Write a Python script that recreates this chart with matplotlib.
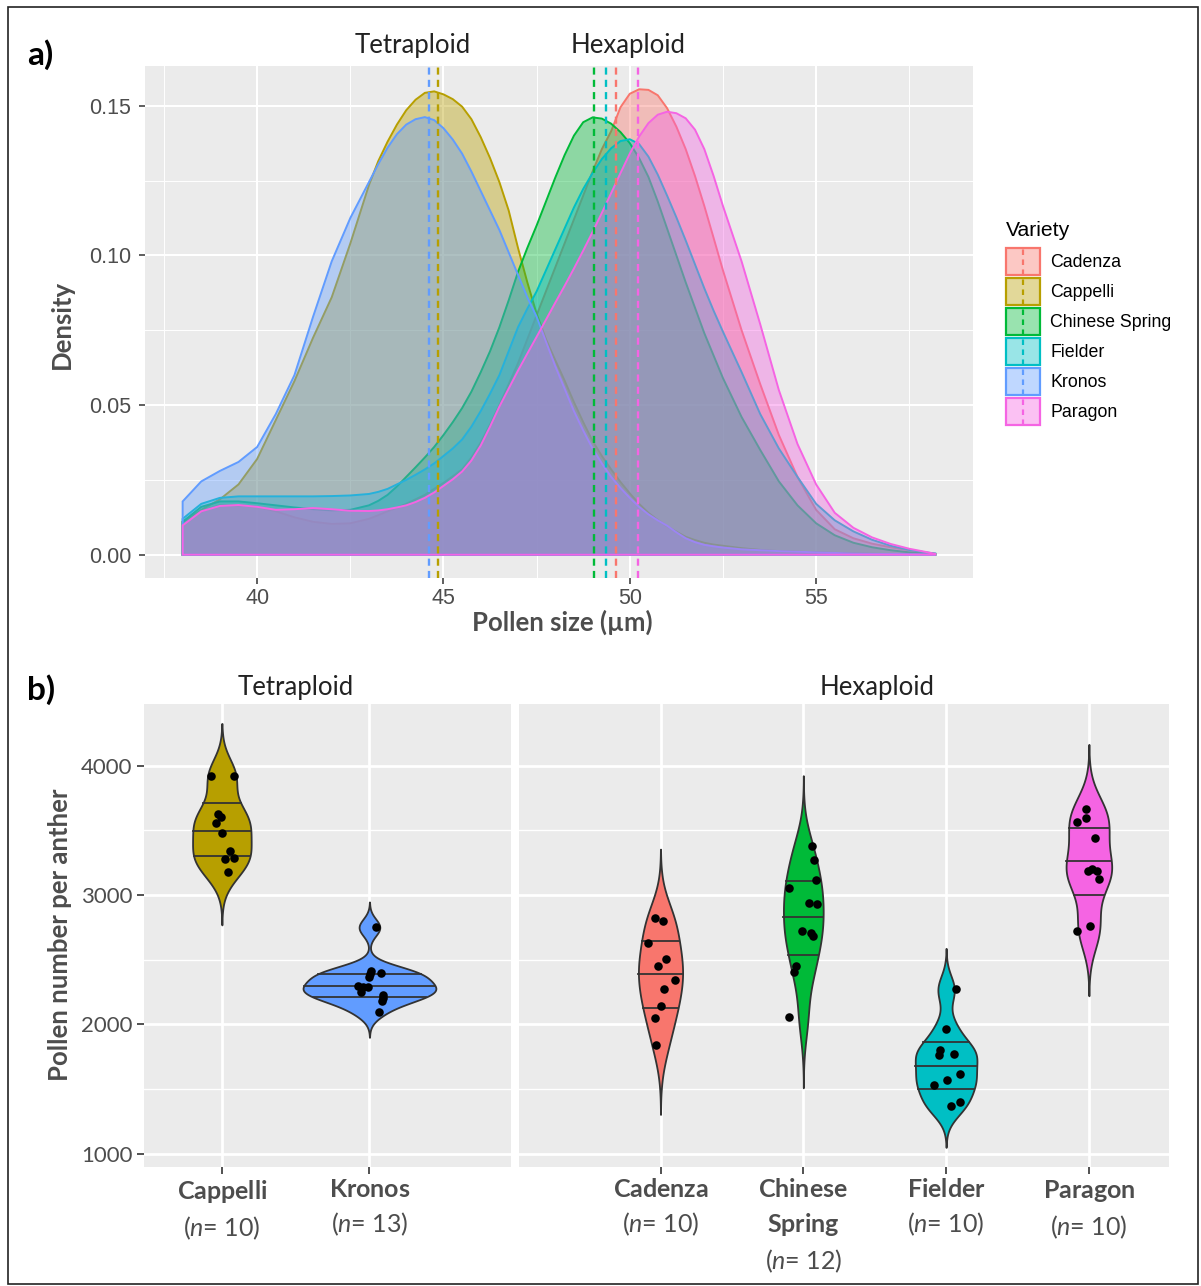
import numpy as np
import matplotlib
matplotlib.use('Agg')
import matplotlib.pyplot as plt
from matplotlib import mlab
from matplotlib.patches import Rectangle, Patch
from matplotlib.lines import Line2D
from matplotlib.legend_handler import HandlerPatch
from matplotlib.ticker import MultipleLocator, FixedLocator


# ---- panel a: pollen size density ----
varieties = ['Cadenza', 'Cappelli', 'Chinese Spring', 'Fielder', 'Kronos', 'Paragon']
variety_colors = ['#F8766D', '#B79F00', '#00BA38', '#00BFC4', '#619CFF', '#F564E3']

# finer steps where the curves peak
size_um = [38.0, 38.5, 39.0, 39.5, 40.0, 40.5, 41.0, 41.5, 42.0, 42.5,
           43.0, 43.25, 43.5, 43.75, 44.0, 44.25, 44.5, 44.75, 45.0, 45.25,
           45.5, 45.75, 46.0, 46.25, 46.5, 46.75, 47.0, 47.25, 47.5, 47.75,
           48.0, 48.25, 48.5, 48.75, 49.0, 49.25, 49.5, 49.75, 50.0, 50.25,
           50.5, 50.75, 51.0, 51.25, 51.5, 51.75, 52.0, 52.25, 52.5,
           53.0, 53.5, 54.0, 54.5, 55.0, 55.5, 56.0, 56.5, 57.0, 57.5, 58.0, 58.2]

dens_cadenza = [0.0110, 0.0145, 0.0165, 0.0165, 0.0160, 0.0145, 0.0125, 0.0110, 0.0103, 0.0105,
                0.0120, 0.0132, 0.0145, 0.0157, 0.0170, 0.0185, 0.0200, 0.0220, 0.0240, 0.0262,
                0.0285, 0.0325, 0.0375, 0.0435, 0.0500, 0.0570, 0.0640, 0.0720, 0.0800, 0.0880,
                0.0960, 0.1040, 0.1120, 0.1200, 0.1280, 0.1355, 0.1415, 0.1495, 0.1540, 0.1555,
                0.1553, 0.1535, 0.1492, 0.1430, 0.1355, 0.1265, 0.1165, 0.1058, 0.0950,
                0.0750, 0.0570, 0.0400, 0.0260, 0.0150, 0.0085, 0.0055, 0.0037, 0.0025, 0.0015, 0.0006, 0.0003]
dens_cappelli = [0.0110, 0.0150, 0.0185, 0.0235, 0.0320, 0.0450, 0.0580, 0.0725, 0.0860, 0.1040,
                 0.1235, 0.1315, 0.1380, 0.1437, 0.1485, 0.1520, 0.1543, 0.1548, 0.1538, 0.1522,
                 0.1497, 0.1455, 0.1395, 0.1325, 0.1245, 0.1150, 0.1025, 0.0910, 0.0805, 0.0720,
                 0.0650, 0.0582, 0.0510, 0.0443, 0.0380, 0.0330, 0.0285, 0.0243, 0.0205, 0.0170,
                 0.0140, 0.0116, 0.0095, 0.0077, 0.0060, 0.0049, 0.0040, 0.0034, 0.0030,
                 0.0022, 0.0016, 0.0012, 0.0010, 0.0008, 0.0006, 0.0004, 0.0003, 0.0002, 0.0001, 0.0000, 0.0000]
dens_chinese = [0.0110, 0.0160, 0.0178, 0.0178, 0.0172, 0.0165, 0.0158, 0.0152, 0.0148, 0.0150,
                0.0165, 0.0180, 0.0200, 0.0228, 0.0260, 0.0292, 0.0325, 0.0360, 0.0400, 0.0443,
                0.0490, 0.0545, 0.0610, 0.0680, 0.0760, 0.0850, 0.0945, 0.1025, 0.1100, 0.1180,
                0.1260, 0.1335, 0.1400, 0.1445, 0.1461, 0.1457, 0.1440, 0.1412, 0.1375, 0.1325,
                0.1262, 0.1180, 0.1090, 0.1000, 0.0910, 0.0825, 0.0740, 0.0665, 0.0590,
                0.0460, 0.0350, 0.0245, 0.0165, 0.0105, 0.0065, 0.0040, 0.0025, 0.0015, 0.0008, 0.0004, 0.0002]
dens_fielder = [0.0120, 0.0170, 0.0190, 0.0195, 0.0195, 0.0195, 0.0195, 0.0195, 0.0196, 0.0198,
                0.0203, 0.0210, 0.0220, 0.0235, 0.0250, 0.0267, 0.0285, 0.0305, 0.0330, 0.0355,
                0.0385, 0.0428, 0.0480, 0.0538, 0.0600, 0.0680, 0.0760, 0.0822, 0.0880, 0.0950,
                0.1020, 0.1090, 0.1160, 0.1222, 0.1275, 0.1322, 0.1358, 0.1382, 0.1388, 0.1372,
                0.1330, 0.1270, 0.1200, 0.1127, 0.1050, 0.0970, 0.0890, 0.0815, 0.0745,
                0.0610, 0.0470, 0.0355, 0.0260, 0.0170, 0.0115, 0.0078, 0.0050, 0.0030, 0.0016, 0.0007, 0.0004]
dens_kronos = [0.0178, 0.0245, 0.0280, 0.0310, 0.0360, 0.0470, 0.0600, 0.0795, 0.0980, 0.1125,
               0.1245, 0.1305, 0.1360, 0.1405, 0.1437, 0.1455, 0.1462, 0.1452, 0.1425, 0.1387,
               0.1340, 0.1280, 0.1215, 0.1150, 0.1085, 0.1010, 0.0935, 0.0860, 0.0795, 0.0712,
               0.0630, 0.0555, 0.0480, 0.0415, 0.0355, 0.0305, 0.0260, 0.0223, 0.0190, 0.0160,
               0.0135, 0.0115, 0.0097, 0.0075, 0.0055, 0.0042, 0.0033, 0.0028, 0.0024,
               0.0018, 0.0015, 0.0012, 0.0010, 0.0008, 0.0006, 0.0004, 0.0003, 0.0002, 0.0001, 0.0000, 0.0000]
dens_paragon = [0.0098, 0.0145, 0.0163, 0.0166, 0.0160, 0.0150, 0.0152, 0.0156, 0.0152, 0.0147,
                0.0146, 0.0148, 0.0152, 0.0158, 0.0165, 0.0176, 0.0190, 0.0208, 0.0230, 0.0252,
                0.0278, 0.0315, 0.0365, 0.0428, 0.0495, 0.0555, 0.0615, 0.0672, 0.0728, 0.0785,
                0.0842, 0.0898, 0.0956, 0.1016, 0.1078, 0.1142, 0.1208, 0.1275, 0.1340, 0.1397,
                0.1442, 0.1470, 0.1480, 0.1475, 0.1458, 0.1420, 0.1355, 0.1265, 0.1165,
                0.0980, 0.0770, 0.0550, 0.0370, 0.0235, 0.0140, 0.0090, 0.0058, 0.0036, 0.0020, 0.0008, 0.0003]

mean_size = [49.64, 44.85, 49.04, 49.35, 44.62, 50.23]

# ---- panel b: pollen number per anther ----
tetra_names = ['Cappelli', 'Kronos']
hexa_names = ['Cadenza', 'Chinese Spring', 'Fielder', 'Paragon']
tetra_colors = ['#B79F00', '#619CFF']
hexa_colors = ['#F8766D', '#00BA38', '#00BFC4', '#F564E3']

cappelli_counts = [3920, 3920, 3626, 3600, 3554, 3477, 3342, 3280, 3286, 3175]
cappelli_jitter = [-0.075, 0.080, -0.023, -0.005, -0.041, 0.0, 0.057, 0.023, 0.084, 0.041]
kronos_counts = [2749, 2413, 2398, 2367, 2295, 2290, 2251, 2225, 2181, 2096, 2388, 2285, 2204]
kronos_jitter = [0.041, 0.012, 0.078, 0.0, -0.075, -0.011, -0.059, 0.091, 0.084, 0.068, 0.005, -0.045, 0.095]
cadenza_counts = [2819, 2798, 2625, 2501, 2452, 2341, 2272, 2140, 2045, 1838]
cadenza_jitter = [-0.042, 0.015, -0.087, 0.036, -0.015, 0.099, 0.024, 0.0, -0.039, -0.033]
chinese_counts = [3378, 3270, 3115, 3056, 2935, 2930, 2721, 2685, 2708, 2452, 2406, 2053]
chinese_jitter = [0.063, 0.072, 0.090, -0.099, 0.039, 0.096, -0.009, 0.066, 0.057, -0.054, -0.066, -0.099]
fielder_counts = [2269, 1967, 1800, 1761, 1769, 1614, 1567, 1534, 1395, 1366]
fielder_jitter = [0.066, 0.0, -0.045, -0.051, 0.054, 0.099, 0.006, -0.084, 0.099, 0.033]
paragon_counts = [3662, 3593, 3564, 3443, 3185, 3185, 3198, 3123, 2762, 2723]
paragon_jitter = [-0.018, -0.021, -0.081, 0.045, -0.009, 0.057, 0.021, 0.069, 0.009, -0.084]


W, H = 1201, 1286
GRAY_TXT = '#4D4D4D'
EDGE = '#333333'

plt.rcParams['font.family'] = ['Lato', 'DejaVu Sans']
plt.rcParams['mathtext.fontset'] = 'custom'
plt.rcParams['mathtext.rm'] = 'Lato'
plt.rcParams['mathtext.it'] = 'Lato:italic'
plt.rcParams['mathtext.bf'] = 'Lato:bold'


def fx(px):
    return px / W


def fy(py):
    return 1 - py / H


def px_axes(left, top, right, bottom):
    return [fx(left), fy(bottom), (right - left) / W, (bottom - top) / H]


def gg_panel(ax, major_lw, minor_lw):
    ax.set_facecolor('#EBEBEB')
    for s in ax.spines.values():
        s.set_visible(False)
    ax.grid(which='major', color='white', lw=major_lw)
    ax.grid(which='minor', color='white', lw=minor_lw)
    ax.set_axisbelow(True)


class KeyWithLine(HandlerPatch):
    # ggplot style key: filled box plus the dashed mean line
    def create_artists(self, legend, orig_handle, xdescent, ydescent, width, height, fontsize, trans):
        box = Rectangle((-xdescent, -ydescent), width, height,
                        facecolor=orig_handle.get_facecolor(), edgecolor=orig_handle.get_edgecolor(),
                        lw=1.6, transform=trans)
        mid = -xdescent + width / 2
        line = Line2D([mid, mid], [-ydescent, -ydescent + height], color=orig_handle.get_edgecolor(),
                      ls=(0, (2.5, 2)), lw=1.6, transform=trans)
        return [box, line]


def nrd0(v):
    q75, q25 = np.percentile(v, [75, 25])
    lo = min(v.std(ddof=1), (q75 - q25) / 1.34)
    return 0.9 * lo * len(v) ** -0.2


def violin_stats(counts):
    v = np.asarray(counts, float)
    bw = nrd0(v)
    coords = np.linspace(v.min() - 3 * bw, v.max() + 3 * bw, 512)
    kde = mlab.GaussianKDE(v, bw_method=bw / v.std(ddof=1))
    return dict(coords=coords, vals=kde.evaluate(coords), mean=v.mean(),
                median=np.median(v), min=v.min(), max=v.max())


def draw_violins(ax, stats, colors, counts, jitters, gmax):
    pos = list(range(len(stats)))
    widths = [0.9 * s['vals'].max() / gmax for s in stats]
    parts = ax.violin(stats, positions=pos, widths=widths,
                      showmeans=False, showextrema=False, showmedians=False)
    for body, c in zip(parts['bodies'], colors):
        body.set_facecolor(c)
        body.set_edgecolor(EDGE)
        body.set_linewidth(1.3)
        body.set_alpha(1)
    for p, s in zip(pos, stats):
        cdf = np.cumsum(s['vals'])
        cdf = cdf / cdf[-1]
        for q in (0.25, 0.5, 0.75):
            yq = np.interp(q, cdf, s['coords'])
            half = 0.45 * np.interp(yq, s['coords'], s['vals']) / gmax
            ax.plot([p - half, p + half], [yq, yq], color=EDGE, lw=1.3, zorder=2.5)
    for p, c, j in zip(pos, counts, jitters):
        ax.scatter(p + np.asarray(j), c, s=38, color='black', zorder=3, linewidths=0)


def tick_label(name, n):
    bold = '\n'.join(r'$\bf{%s}$' % w for w in name.split())
    return bold + '\n' + r'($\it{n}$= %d)' % n


fig = plt.figure(figsize=(W / 100, H / 100), dpi=100)
fig.add_artist(Rectangle((fx(8), fy(1284)), fx(1198) - fx(8), (1284 - 7) / H, transform=fig.transFigure,
                         fill=False, edgecolor='#222222', lw=1.2))

# ---------------- panel a ----------------
ax = fig.add_axes(px_axes(145, 66, 973, 578))
gg_panel(ax, 1.5, 0.7)
dens_all = [dens_cadenza, dens_cappelli, dens_chinese, dens_fielder, dens_kronos, dens_paragon]
for d, c in zip(dens_all, variety_colors):
    assert len(d) == len(size_um)
    xs = [size_um[0]] + size_um + [size_um[-1]]
    ys = [0.0] + d + [0.0]
    ax.fill(xs, ys, facecolor=matplotlib.colors.to_rgba(c, 0.4), edgecolor=c, lw=1.4)
for m, c in zip(mean_size, variety_colors):
    ax.axvline(m, color=c, lw=1.7, ls=(0, (3, 2.2)))

xr = size_um[-1] - size_um[0]
ymax = max(max(d) for d in dens_all)
ax.set_xlim(size_um[0] - 0.05 * xr, size_um[-1] + 0.05 * xr)
ax.set_ylim(-0.05 * ymax, ymax * 1.05)
ax.xaxis.set_major_locator(FixedLocator([40, 45, 50, 55]))
ax.xaxis.set_minor_locator(FixedLocator([37.5, 42.5, 47.5, 52.5, 57.5]))
ax.yaxis.set_major_locator(MultipleLocator(0.05))
ax.yaxis.set_minor_locator(FixedLocator([0.025, 0.075, 0.125]))
ax.yaxis.set_major_formatter(matplotlib.ticker.FormatStrFormatter('%.2f'))
ax.tick_params(which='major', length=4, width=1.1, color=EDGE,
               labelsize=15.5, labelcolor=GRAY_TXT)
ax.tick_params(axis='x', pad=3)
ax.tick_params(axis='y', pad=6)
ax.tick_params(which='minor', length=0)
for lab in ax.get_xticklabels() + ax.get_yticklabels():
    lab.set_family('Liberation Sans')

handles = [Patch(facecolor=matplotlib.colors.to_rgba(c, 0.4), edgecolor=c) for c in variety_colors]
leg = fig.legend(handles, varieties, handler_map={Patch: KeyWithLine()}, loc='upper left',
                 bbox_to_anchor=(fx(1006), fy(248)), frameon=False,
                 prop={'family': 'Liberation Sans', 'size': 12.8},
                 handlelength=1.9, handleheight=2.0, labelspacing=0.14, handletextpad=0.6,
                 borderpad=0, borderaxespad=0)
fig.text(fx(1006), fy(230), 'Variety', family='Liberation Sans', fontsize=15.2,
         ha='left', va='center')

fig.text(fx(27), fy(55), 'a)', fontsize=24, fontweight='bold', ha='left', va='center')
fig.text(fx(413), fy(45), 'Tetraploid', fontsize=18.5, ha='center', va='center', color='#222222')
fig.text(fx(628), fy(45), 'Hexaploid', fontsize=18.5, ha='center', va='center', color='#222222')
fig.text(fx(62), fy(324), 'Density', fontsize=18.5, fontweight='bold', rotation=90,
         ha='center', va='center', color=GRAY_TXT)
fig.text(fx(562), fy(622), 'Pollen size (µm)', fontsize=18.5, fontweight='bold',
         ha='center', va='center', color=GRAY_TXT)

# ---------------- panel b ----------------
tetra_stats = [violin_stats(c) for c in (cappelli_counts, kronos_counts)]
hexa_stats = [violin_stats(c) for c in (cadenza_counts, chinese_counts, fielder_counts, paragon_counts)]
gmax = max(s['vals'].max() for s in tetra_stats + hexa_stats)

axl = fig.add_axes(px_axes(143.5, 704, 511, 1167))
axr = fig.add_axes(px_axes(519, 704, 1169, 1167), sharey=axl)
for a in (axl, axr):
    gg_panel(a, 2.0, 1.0)

draw_violins(axl, tetra_stats, tetra_colors, [cappelli_counts, kronos_counts],
             [cappelli_jitter, kronos_jitter], gmax)
draw_violins(axr, hexa_stats, hexa_colors,
             [cadenza_counts, chinese_counts, fielder_counts, paragon_counts],
             [cadenza_jitter, chinese_jitter, fielder_jitter, paragon_jitter], gmax)

axl.set_xlim(-0.531, 1.959)
axr.set_xlim(-0.991, 3.561)
axl.set_ylim(896, 4477)
axl.yaxis.set_major_locator(FixedLocator([1000, 2000, 3000, 4000]))
axl.yaxis.set_minor_locator(FixedLocator([1500, 2500, 3500]))
axl.xaxis.set_major_locator(FixedLocator([0, 1]))
axr.xaxis.set_major_locator(FixedLocator([0, 1, 2, 3]))
axl.set_xticklabels([tick_label(n, k) for n, k in zip(tetra_names, [10, 13])])
axr.set_xticklabels([tick_label(n, k) for n, k in zip(hexa_names, [10, 12, 10, 10])])
for a in (axl, axr):
    a.tick_params(which='major', length=5, width=1.2, color=EDGE, pad=3,
                  labelsize=18, labelcolor=GRAY_TXT)
    a.tick_params(which='minor', length=0)
    for lab in a.get_xticklabels():
        lab.set_linespacing(1.45)
        lab.set_verticalalignment('top')
axl.tick_params(axis='y', labelsize=16, pad=3)
axr.tick_params(axis='y', which='both', left=False, labelleft=False)

fig.text(fx(27), fy(690), 'b)', fontsize=24, fontweight='bold', ha='left', va='center')
fig.text(fx(296), fy(688), 'Tetraploid', fontsize=18.5, ha='center', va='center', color='#222222')
fig.text(fx(877), fy(688), 'Hexaploid', fontsize=18.5, ha='center', va='center', color='#222222')
fig.text(fx(60), fy(935), 'Pollen number per anther', fontsize=18.5, fontweight='bold', rotation=90,
         ha='center', va='center', color=GRAY_TXT)

fig.savefig('out.png', dpi=100)
